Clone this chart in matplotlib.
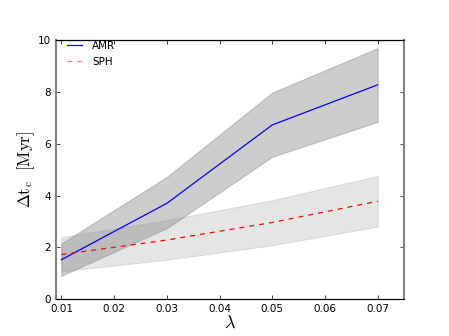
import matplotlib
matplotlib.use('Agg')
import matplotlib.pyplot as plt

plt.rcParams['mathtext.fontset'] = 'cm'

# lambda values
lam = [0.01, 0.03, 0.05, 0.07]

# AMR: median and spread
amr = [1.52, 3.70, 6.73, 8.28]
amrLow = [0.90, 2.74, 5.50, 6.85]
amrHigh = [2.15, 4.72, 7.98, 9.70]

# SPH: median and spread
sph = [1.72, 2.28, 2.96, 3.78]
sphLow = [1.07, 1.52, 2.08, 2.80]
sphHigh = [2.39, 3.05, 3.82, 4.76]

fig, ax = plt.subplots(figsize=(4.49, 3.36), dpi=100)

ax.fill_between(lam, amrLow, amrHigh, color='gray', alpha=0.4, linewidth=0.8)
ax.fill_between(lam, sphLow, sphHigh, color='gray', alpha=0.2, linewidth=0.8)
ax.plot(lam, amr, color='blue', lw=0.9, label='AMR')
ax.plot(lam, sph, color='red', lw=0.9, ls='--', dashes=(4, 4), label='SPH')

ax.set_xlim(0.009, 0.075)
ax.set_ylim(0, 10)
ax.set_xticks([0.01, 0.02, 0.03, 0.04, 0.05, 0.06, 0.07])
ax.set_yticks([0, 2, 4, 6, 8, 10])
ax.tick_params(direction='in', top=True, right=True, labelsize=7.5, length=3, width=0.5)

for s in ['left', 'right']:
    ax.spines[s].set_color('gray')
    ax.spines[s].set_linewidth(1.5)
for s in ['top', 'bottom']:
    ax.spines[s].set_linewidth(0.9)

ax.set_xlabel(r'$\lambda$', fontsize=13, labelpad=0)
ax.set_ylabel(r'$\Delta\mathrm{t_c\ \ [Myr]}$', fontsize=12)
ax.yaxis.set_label_coords(-0.055, 0.5)

leg = ax.legend(loc='upper left', bbox_to_anchor=(0.02, 1.015), frameon=False,
                fontsize=7.5, handlelength=1.4, handletextpad=1.0,
                borderaxespad=0.0, labelspacing=0.6)
leg.get_lines()[1].set_alpha(0.5)

fig.savefig('out.png', dpi=100)
